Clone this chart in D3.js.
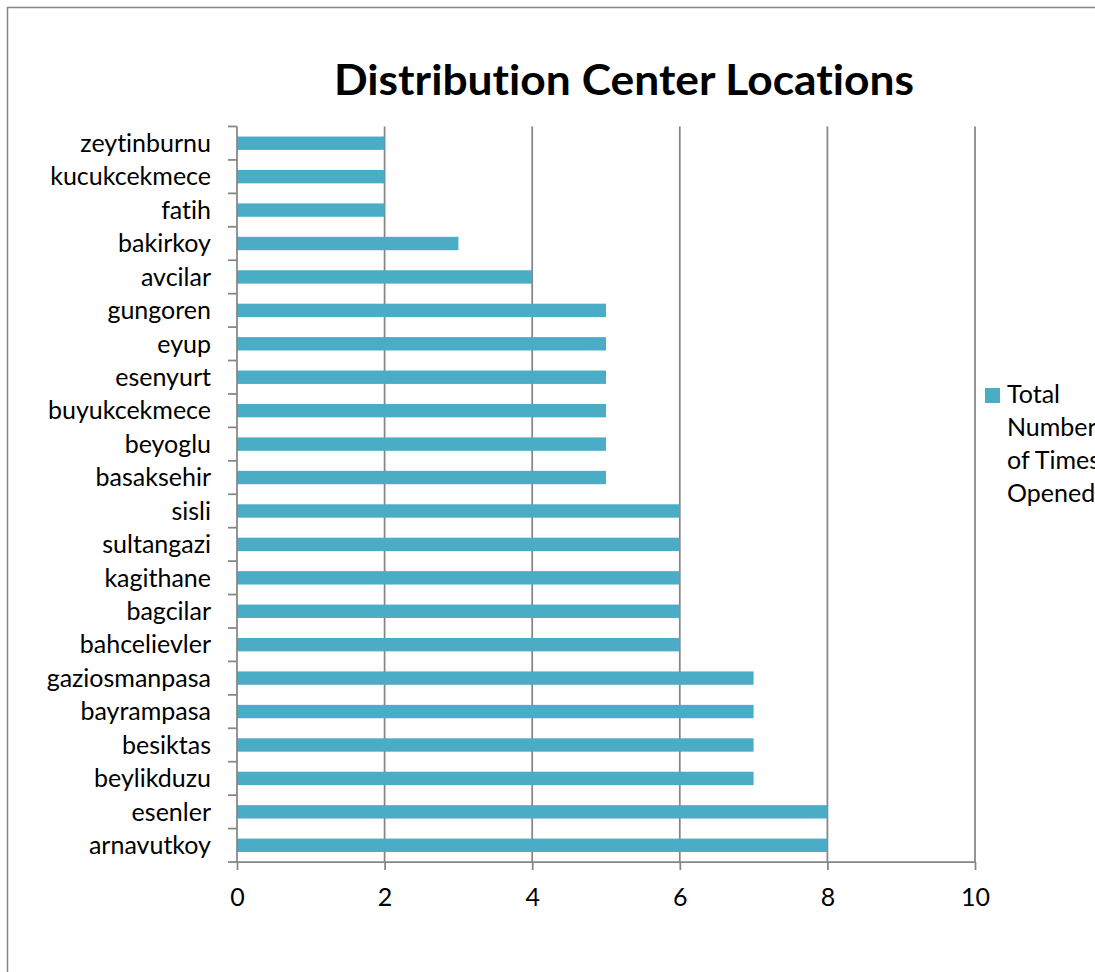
<!DOCTYPE html>
<html>
<head>
<meta charset="utf-8">
<script src="https://cdn.jsdelivr.net/npm/d3@7"></script>
<style>
  html, body { margin: 0; padding: 0; background: #fff; overflow: hidden; }
  svg { display: block; }
  text { font-family: Lato, "Open Sans", sans-serif; fill: #000; font-variant-ligatures: none; font-feature-settings: "liga" 0, "clig" 0; }
</style>
</head>
<body>
<svg id="chart" width="1095" height="972"></svg>
<script>
const categories = ["zeytinburnu","kucukcekmece","fatih","bakirkoy","avcilar","gungoren","eyup","esenyurt","buyukcekmece","beyoglu","basaksehir","sisli","sultangazi","kagithane","bagcilar","bahcelievler","gaziosmanpasa","bayrampasa","besiktas","beylikduzu","esenler","arnavutkoy"];
const values = [2,2,2,3,4,5,5,5,5,5,5,6,6,6,6,6,7,7,7,7,8,8];
const xTicks = [0,2,4,6,8,10];
const title = "Distribution Center Locations";
const legendLines = ["Total","Number","of Times","Opened"];

(function () {
const svg = d3.select("#chart");
const pLeft = 237, pRight = 975, pTop = 126.5, pBottom = 862;
const axisColor = "#868686";
const barColor = "#4BACC6";

// outer border
svg.append("rect").attr("x", 7.5).attr("y", 7.5).attr("width", 1200).attr("height", 1200)
  .attr("fill", "none").attr("stroke", axisColor).attr("stroke-width", 1.5);

// title
svg.append("text").attr("x", 624).attr("y", 95).attr("text-anchor", "middle")
  .attr("font-size", 42).attr("font-weight", "bold")
  .attr("textLength", 580).attr("lengthAdjust", "spacingAndGlyphs")
  .text(title);

const x = d3.scaleLinear().domain([0, 10]).range([pLeft, pRight]);
const y = d3.scaleBand().domain(categories).range([pTop, pBottom]).paddingInner(0.6).paddingOuter(0.3);

// gridlines
svg.append("g").selectAll("line").data(xTicks.filter(d => d > 0)).join("line")
  .attr("x1", d => x(d)).attr("x2", d => x(d)).attr("y1", pTop).attr("y2", pBottom)
  .attr("stroke", axisColor).attr("stroke-width", 1.75);

// bars
svg.append("g").selectAll("rect").data(categories).join("rect")
  .attr("x", x(0)).attr("y", d => y(d))
  .attr("width", (d, i) => x(values[i]) - x(0))
  .attr("height", y.bandwidth())
  .attr("fill", barColor);

// x axis
const xAxis = d3.axisBottom(x).tickValues(xTicks).tickSize(8).tickPadding(18).tickFormat(d3.format("d"));
const gx = svg.append("g").attr("transform", `translate(0,${pBottom})`).call(xAxis);
gx.select(".domain").attr("stroke", axisColor).attr("stroke-width", 1.75).attr("d", `M${pLeft},0H${pRight}`);
gx.selectAll(".tick line").attr("stroke", axisColor).attr("stroke-width", 1.75);
gx.selectAll(".tick text").attr("font-size", 25).attr("font-family", "Lato, 'Open Sans', sans-serif").attr("fill", "#000");

// y axis: ticks at band boundaries
const step = (pBottom - pTop) / categories.length;
const bounds = d3.range(categories.length + 1).map(i => pTop + i * step);
svg.append("line").attr("x1", pLeft).attr("x2", pLeft).attr("y1", pTop).attr("y2", pBottom)
  .attr("stroke", axisColor).attr("stroke-width", 1.75);
svg.append("g").selectAll("line").data(bounds).join("line")
  .attr("x1", pLeft - 9).attr("x2", pLeft).attr("y1", d => d).attr("y2", d => d)
  .attr("stroke", axisColor).attr("stroke-width", 1.75);
svg.append("g").selectAll("text").data(categories).join("text")
  .attr("x", 211).attr("y", d => y(d) + y.bandwidth() / 2)
  .attr("dy", "0.35em").attr("text-anchor", "end").attr("font-size", 25)
  .text(d => d);

// legend
svg.append("rect").attr("x", 985).attr("y", 388).attr("width", 15).attr("height", 15).attr("fill", barColor);
svg.append("g").selectAll("text").data(legendLines).join("text")
  .attr("x", 1007).attr("y", (d, i) => 403 + i * 33).attr("font-size", 25).text(d => d);
})();
</script>
</body>
</html>
